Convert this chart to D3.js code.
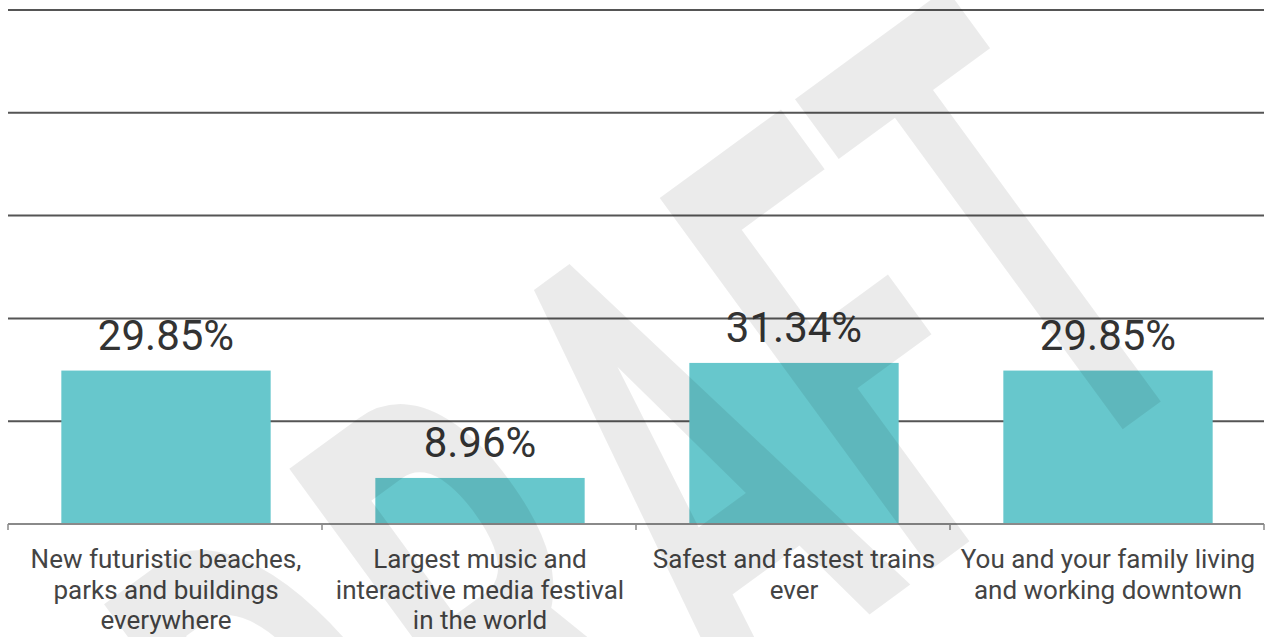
<!DOCTYPE html>
<html>
<head>
<meta charset="utf-8">
<script src="https://cdn.jsdelivr.net/npm/d3@7/dist/d3.min.js"></script>
<style>
  html, body { margin: 0; padding: 0; background: #fff; }
  svg { display: block; }
</style>
</head>
<body>
<svg id="chart" width="1265" height="637"></svg>
<script>
// Survey answers: share of respondents per attraction
const categories = [
  ["New futuristic beaches,", "parks and buildings", "everywhere"],
  ["Largest music and", "interactive media festival", "in the world"],
  ["Safest and fastest trains", "ever"],
  ["You and your family living", "and working downtown"]
];
const values = [29.85, 8.96, 31.34, 29.85];
const valueLabels = ["29.85%", "8.96%", "31.34%", "29.85%"];
const gridTicks = [0, 20, 40, 60, 80, 100];
const watermarkLetters = ["D", "R", "A", "F", "T"];

const W = 1265, H = 637;
const margin = { top: 10, right: 1, bottom: 113, left: 8 };
const svg = d3.select("#chart");

const x = d3.scaleBand()
  .domain(d3.range(values.length))
  .range([margin.left, W - margin.right])
  .paddingInner(1 / 3)
  .paddingOuter(1 / 6);

const y = d3.scaleLinear()
  .domain([0, 100])
  .range([H - margin.bottom, margin.top]);

// horizontal gridlines
svg.append("g")
  .selectAll("line")
  .data(gridTicks.filter(d => d > 0))
  .join("line")
  .attr("x1", margin.left)
  .attr("x2", W - margin.right)
  .attr("y1", d => y(d))
  .attr("y2", d => y(d))
  .attr("stroke", "#555")
  .attr("stroke-width", 2);

// bars
svg.append("g")
  .selectAll("rect")
  .data(values)
  .join("rect")
  .attr("x", (d, i) => x(i) + 1)
  .attr("width", x.bandwidth())
  .attr("y", d => y(d))
  .attr("height", d => y(0) - y(d))
  .attr("fill", "#67c7cc");

// category axis with ticks on band boundaries
const step = x.step();
const boundaries = d3.range(values.length + 1).map(i => margin.left + i * step);
const axis = svg.append("g");
axis.append("line")
  .attr("x1", margin.left).attr("x2", W - margin.right)
  .attr("y1", y(0)).attr("y2", y(0))
  .attr("stroke", "#8a8a8a").attr("stroke-width", 2);
axis.selectAll("line.tick")
  .data(boundaries)
  .join("line")
  .attr("class", "tick")
  .attr("x1", d => d).attr("x2", d => d)
  .attr("y1", y(0)).attr("y2", y(0) + 6)
  .attr("stroke", "#8a8a8a").attr("stroke-width", 1.5);

// category labels
const catG = svg.append("g")
  .attr("font-family", "Roboto, sans-serif")
  .attr("font-size", 26)
  .attr("fill", "#444")
  .attr("text-anchor", "middle");
categories.forEach((lines, i) => {
  const cx = x(i) + x.bandwidth() / 2 + 1;
  const t = catG.append("text")
    .attr("x", cx)
    .attr("y", y(0) + 44);
  lines.forEach((ln, k) => {
    t.append("tspan")
      .attr("x", cx)
      .attr("dy", k === 0 ? 0 : 30.5)
      .text(ln);
  });
});

// value labels
svg.append("g")
  .attr("font-family", "Roboto, sans-serif")
  .attr("font-size", 42)
  .attr("fill", "#333")
  .attr("text-anchor", "middle")
  .selectAll("text")
  .data(values)
  .join("text")
  .attr("x", (d, i) => x(i) + x.bandwidth() / 2 + 1)
  .attr("y", d => y(d) - 21)
  .text((d, i) => valueLabels[i]);

// diagonal watermark, letters placed along a rotated, condensed baseline
const wmScaleX = 0.5;
const letterCenters = [-188, 40, 282, 484, 677];
const wm = svg.append("g")
  .attr("transform", `translate(595.6,814.7) rotate(-36.17) scale(${wmScaleX},1)`)
  .attr("font-family", "Roboto, sans-serif")
  .attr("font-weight", "bold")
  .attr("font-size", 647)
  .attr("text-anchor", "middle")
  .attr("fill", "#000")
  .attr("fill-opacity", 0.08);
wm.selectAll("text")
  .data(watermarkLetters)
  .join("text")
  .attr("x", (d, i) => letterCenters[i] / wmScaleX)
  .attr("y", 0)
  .text(d => d);
</script>
</body>
</html>
